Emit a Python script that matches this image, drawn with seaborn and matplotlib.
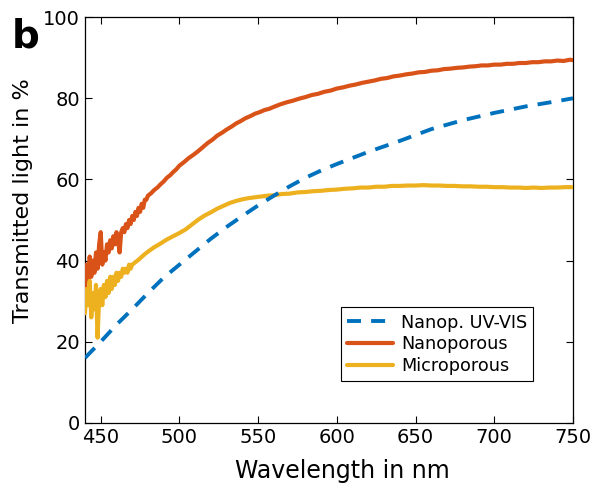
import numpy as np
import pandas as pd
import matplotlib
matplotlib.use("Agg")
import matplotlib.pyplot as plt
import seaborn as sns

# ---- data ----
uv_wl = [440, 450, 460, 470, 480, 490, 500, 510, 520, 530, 540, 550, 560, 570,
         580, 590, 600, 612, 620, 640, 660, 680, 700, 720, 740, 750]
uv_t = [16, 20, 24.2, 28, 32, 35.8, 39, 42.2, 45.4, 48.3, 51, 53.6, 56, 58.3,
        60.4, 62.2, 63.8, 65.6, 66.8, 69.5, 72.4, 74.6, 76.4, 78, 79.3, 80]

nano_wl = [440, 441, 442, 443, 444, 445, 446, 447, 448, 449, 450, 451, 452, 453,
           454, 455, 456, 457, 458, 459, 460, 461, 462, 463, 464, 465, 466, 467,
           468, 469, 470, 471, 472, 473, 474, 475, 476, 477, 478, 479, 480,
           482, 484, 486, 488, 490, 492, 494, 496, 498, 500, 503, 506, 509, 512,
           515, 518, 521, 524, 527, 530, 533, 536, 539, 542, 545, 548, 551, 554,
           557, 560, 564, 568, 572, 576, 580, 584, 588, 592,
           596, 600, 604, 608, 612, 616, 620, 624, 628, 632, 636, 640, 644, 648,
           652, 656, 660, 664, 668, 672, 676, 680, 684, 688, 692, 696, 700, 704,
           708, 712, 716, 720, 724, 728, 732, 736, 740, 744, 748, 750]
nano_t = [33, 39, 35, 41, 36, 40, 37, 42, 38, 44, 47, 39, 42, 40,
          44, 42, 45, 43, 46, 44, 47, 45, 42, 47, 48, 47, 49, 48,
          50, 49, 51, 50, 52, 51, 53, 52, 54, 53, 55, 55, 56,
          56.6, 57.4, 58.0, 58.8, 59.5, 60.4, 61.0, 61.8, 62.5, 63.4, 64.3, 65.3, 66.1, 67.0,
          68.0, 69.0, 69.8, 70.8, 71.5, 72.3, 73.0, 73.8, 74.4, 75.1, 75.6, 76.2, 76.6, 77.1,
          77.4, 77.9, 78.5, 79.0, 79.4, 79.9, 80.3, 80.8, 81.1, 81.6,
          81.9, 82.4, 82.7, 83.1, 83.4, 83.8, 84.1, 84.4, 84.8, 85.0, 85.4, 85.6, 85.9, 86.1,
          86.4, 86.5, 86.8, 86.9, 87.2, 87.3, 87.5, 87.6, 87.8, 87.9, 88.1, 88.1, 88.3, 88.3,
          88.5, 88.5, 88.7, 88.7, 88.9, 88.9, 89.1, 89.1, 89.3, 89.2, 89.5, 89.4]

micro_wl = [440, 441, 442, 443, 444, 445, 446, 447, 448, 449, 450, 451, 452, 453,
            454, 455, 456, 457, 458, 459, 460, 461, 462, 463, 464, 465, 466, 467,
            468, 469, 470, 472, 474, 476, 478, 480, 484, 488, 492, 496, 500, 504,
            508, 512, 516, 520, 524, 528, 532, 536, 540, 544, 548, 552, 556, 560,
            565, 570, 575, 580, 585, 590, 595, 600, 605, 610, 615, 620, 625, 630,
            635, 640, 645, 650, 655, 660, 665, 670, 675, 680, 685, 690, 695, 700,
            705, 710, 715, 720, 725, 730, 735, 740, 745, 750]
micro_t = [27, 33, 29, 35, 26, 32, 28, 34, 21, 31, 33, 29, 34, 31,
           35, 32, 36, 33, 36, 34, 37, 35, 37, 36, 38, 37, 38, 37,
           39, 38, 39, 39.6, 40.2, 40.9, 41.6, 42.2, 43.3, 44.2, 45.2, 46.0, 46.8, 47.7,
           48.9, 50.1, 51.1, 51.9, 52.8, 53.5, 54.2, 54.7, 55.1, 55.4, 55.6, 55.8, 56.0, 56.1,
           56.4, 56.5, 56.8, 56.9, 57.1, 57.2, 57.4, 57.5, 57.7, 57.8, 58.0, 58.0, 58.2, 58.2,
           58.4, 58.4, 58.5, 58.5, 58.6, 58.5, 58.5, 58.4, 58.4, 58.3, 58.3, 58.2, 58.2, 58.1,
           58.1, 58.0, 58.0, 57.9, 58.0, 57.9, 58.0, 58.0, 58.1, 58.1]

# ---- figure ----
sns.set_style("white")
plt.rcParams['font.family'] = ['DejaVu Sans']
plt.rcParams.update({"text.color": "black", "axes.labelcolor": "black",
                     "xtick.color": "black", "ytick.color": "black"})

fig = plt.figure(figsize=(6.07, 4.90), dpi=100)
ax = fig.add_axes([0.140, 0.137, 0.804, 0.828])

blue = "#0072BD"
orange = "#D95319"
yellow = "#EDB120"

df_nano = pd.DataFrame({"wl": nano_wl, "t": nano_t})
df_micro = pd.DataFrame({"wl": micro_wl, "t": micro_t})
df_uv = pd.DataFrame({"wl": uv_wl, "t": uv_t})

sns.lineplot(data=df_nano, x="wl", y="t", ax=ax, color=orange, lw=3.0,
             label="Nanoporous", zorder=3)
sns.lineplot(data=df_micro, x="wl", y="t", ax=ax, color=yellow, lw=3.0,
             label="Microporous", zorder=3)
sns.lineplot(data=df_uv, x="wl", y="t", ax=ax, color=blue, lw=2.8,
             label="Nanop. UV-VIS", zorder=4)
uvline = ax.lines[-1]
uvline.set_linestyle((0, (3.6, 2.6)))
uvline.set_dash_capstyle("butt")

ax.set_xlim(440, 750)
ax.set_ylim(0, 100)
ax.set_xticks([450, 500, 550, 600, 650, 700, 750])
ax.set_yticks([0, 20, 40, 60, 80, 100])
ax.tick_params(direction="in", length=5, width=0.8, labelsize=14,
               top=True, right=True, bottom=True, left=True, colors="black")
for s in ax.spines.values():
    s.set_color("black")
    s.set_linewidth(0.9)

ax.set_xlabel("Wavelength in nm", fontsize=17, color="black")
ax.set_ylabel("Transmitted light in %", fontsize=16, color="black")
ax.xaxis.set_label_coords(0.528, -0.088)
ax.yaxis.set_label_coords(-0.107, 0.549)

handles, labels = ax.get_legend_handles_labels()
order = [2, 0, 1]
leg = ax.legend([handles[i] for i in order], [labels[i] for i in order],
                loc="lower right", bbox_to_anchor=(0.919, 0.102),
                fontsize=12.7, frameon=True, fancybox=False, framealpha=1,
                edgecolor="black", handlelength=2.6, borderpad=0.35,
                labelspacing=0.22, handletextpad=0.45, borderaxespad=0)
leg.get_frame().set_linewidth(0.8)

fig.text(0.02, 0.965, "b", fontsize=28, fontweight="bold", va="top", ha="left",
         color="black")

fig.savefig("out.png", dpi=100)
